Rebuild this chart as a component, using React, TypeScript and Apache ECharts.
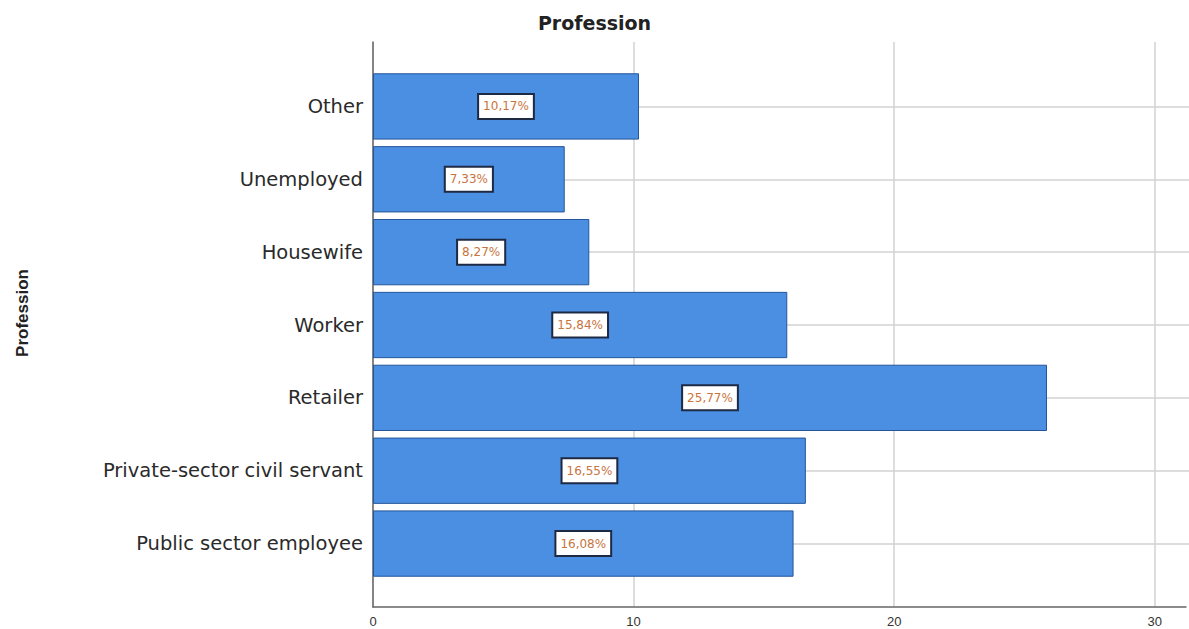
import React, { useEffect, useRef } from "react";
import * as echarts from "echarts";

const categories = [
  "Other",
  "Unemployed",
  "Housewife",
  "Worker",
  "Retailer",
  "Private-sector civil servant",
  "Public sector employee",
];
const percentages = [10.17, 7.33, 8.27, 15.84, 25.77, 16.55, 16.08];
const xTicks = [0, 10, 20, 30];
const chartTitle = "Profession";
const yTitle = "Profession";

export default function App() {
  const ref = useRef<HTMLDivElement>(null);
  useEffect(() => {
    document.body.style.margin = "0";
    if (!ref.current) return;
    const chart = echarts.init(ref.current, undefined, { renderer: "svg" });
    const font = "'Liberation Sans', Arial, sans-serif";
    const wide = "'DejaVu Sans', sans-serif";
    chart.setOption({
      animation: false,
      backgroundColor: "#ffffff",
      textStyle: { fontFamily: font },
      title: {
        text: chartTitle,
        left: "center",
        top: 8,
        textStyle: { fontSize: 19, fontWeight: "bold", color: "#222", fontFamily: wide },
      },
      grid: [
        { left: 373, right: 0, top: 70, bottom: 49 },
        { left: 373, right: 0, top: 42, bottom: 22 },
      ],
      xAxis: [
        { gridIndex: 0, type: "value", min: 0, max: 31.2, show: false },
        {
          gridIndex: 1,
          type: "value",
          min: 0,
          max: 31.2,
          interval: 10,
          axisLine: { show: true, lineStyle: { color: "#666", width: 1.5 } },
          axisTick: { show: false },
          splitLine: { show: true, showMaxLine: false, lineStyle: { color: "#d2d2d2", width: 1.5 } },
          axisLabel: {
            color: "#333",
            fontSize: 13,
            margin: 8,
            fontFamily: font,
            formatter: (v: number) => (xTicks.includes(v) ? String(v) : ""),
          },
        },
      ],
      yAxis: [
        {
          gridIndex: 0,
          type: "category",
          inverse: true,
          data: categories,
          axisLine: { show: false },
          axisTick: { show: false },
          splitLine: { show: false },
          axisLabel: { fontSize: 19.5, color: "#2a2a2a", margin: 10, fontFamily: wide },
        },
        {
          gridIndex: 1,
          type: "value",
          min: 0,
          max: 1,
          axisLine: { show: true, lineStyle: { color: "#666", width: 1.5 } },
          axisTick: { show: false },
          axisLabel: { show: false },
          splitLine: { show: false },
        },
      ],
      graphic: [
        {
          type: "text",
          x: 22,
          y: 313,
          rotation: Math.PI / 2,
          style: {
            text: yTitle,
            fontSize: 17,
            fontWeight: "bold",
            fill: "#222",
            fontFamily: font,
            textAlign: "center",
            textVerticalAlign: "middle",
          },
        },
      ],
      series: [
        {
          type: "line",
          xAxisIndex: 0,
          yAxisIndex: 0,
          data: [],
          z: 1,
          markLine: {
            silent: true,
            z: 1,
            symbol: "none",
            label: { show: false },
            lineStyle: { color: "#d2d2d2", width: 1.5, type: "solid" },
            data: categories.map((c) => ({ yAxis: c })),
          },
        },
        {
          type: "bar",
          xAxisIndex: 0,
          yAxisIndex: 0,
          data: percentages,
          z: 3,
          barCategoryGap: "9%",
          itemStyle: { color: "#4a8fe2", borderColor: "#24559a", borderWidth: 1 },
          label: {
            show: true,
            position: "inside",
            formatter: (p: any) => p.value.toFixed(2).replace(".", ",") + "%",
            color: "#c8743e",
            fontSize: 12,
            fontFamily: wide,
            backgroundColor: "#ffffff",
            borderColor: "#1e2a44",
            borderWidth: 2,
            padding: [6, 4, 5, 4],
          },
        },
      ],
    });
    return () => chart.dispose();
  }, []);
  return <div ref={ref} style={{ width: 1189, height: 629 }} />;
}
